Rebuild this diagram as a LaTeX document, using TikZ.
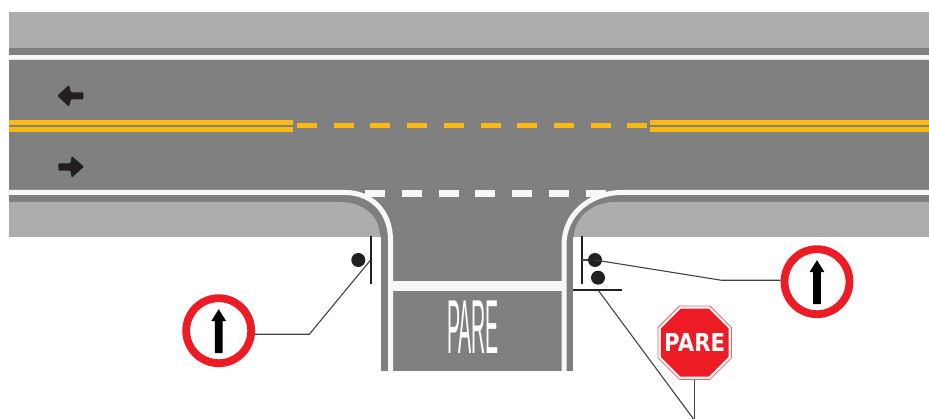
\documentclass[tikz,border=0pt]{standalone}
\usepackage{fontspec}
\usepackage{graphicx}
\setmainfont{Liberation Sans}
\newfontfamily\signfont{DejaVu Sans}
\usetikzlibrary{shapes.geometric}
\definecolor{roadgrey}{HTML}{808080}
\definecolor{curbgrey}{HTML}{7F7F7F}
\definecolor{walkgrey}{HTML}{ADADAD}
\definecolor{paintwhite}{HTML}{F7F9F8}
\definecolor{paintyellow}{HTML}{FDB913}
\definecolor{signred}{HTML}{ED1C24}
\definecolor{inkblack}{HTML}{231F20}
\begin{document}
\begin{tikzpicture}[x=1pt,y=-1pt,
    edgeline/.style={draw=paintwhite,line width=5pt},
    ringsign/.style={circle,draw=signred,fill=white,line width=7.8pt,minimum size=65pt,inner sep=0pt},
    postdot/.style={circle,fill=inkblack,minimum size=14pt,inner sep=0pt},
    postbar/.style={draw=inkblack,line width=1.7pt},
    postline/.style={draw=inkblack!85,line width=1.1pt}]
\useasboundingbox (0,0) rectangle (929,419);

\fill[walkgrey] (9,12) rectangle (929,48);
\fill[curbgrey] (9,48) rectangle (929,55);
\fill[paintwhite] (9,55) rectangle (929,60);

\fill[curbgrey] (9,195) rectangle (929,202);
\fill[curbgrey] (340,195) rectangle (615,237);
\fill[curbgrey] (381,237) rectangle (573,371);
\fill[walkgrey] (9,202) -- (340,202) .. controls (362,202) and (380,215) .. (380,237) -- (9,237) -- cycle;
\fill[walkgrey] (929,202) -- (615,202) .. controls (592,202) and (574,218) .. (574,237) -- (929,237) -- cycle;

\fill[roadgrey] (9,60) -- (929,60) -- (929,192.5) -- (622,192.5) .. controls (590,192.5) and (564,214) .. (564,245) -- (564,371) -- (390.5,371) -- (390.5,240) .. controls (390.5,212) and (372,192.5) .. (345,192.5) -- (9,192.5) -- cycle;
\draw[edgeline] (9,192.5) -- (345,192.5) .. controls (372,192.5) and (390.5,212) .. (390.5,240) -- (390.5,371);
\draw[edgeline] (929,192.5) -- (622,192.5) .. controls (590,192.5) and (564,214) .. (564,245) -- (564,371);
\fill[paintwhite] (392,281) rectangle (562,291);

\fill[paintyellow] (9,120) rectangle (293,125);
\fill[paintyellow] (9,127) rectangle (293,132);
\fill[paintyellow] (650,120) rectangle (929,125);
\fill[paintyellow] (650,127) rectangle (929,132);
\foreach \k in {0,...,9}{
    \fill[paintyellow] (297+36.7*\k,123.3) rectangle (317+36.7*\k,128.3);
}
\foreach \k in {0,...,6}{
    \fill[paintwhite] (365+36.8*\k,190.5) rectangle (385+36.8*\k,197);
}

\fill[inkblack,rounded corners=1pt] (57.3,95.7) -- (69,85) -- (71,92.3) -- (83.3,92.3) -- (83.3,99.3) -- (71,99.3) -- (69,106.7) -- cycle;
\fill[inkblack,rounded corners=1pt] (84,166.7) -- (71.7,156) -- (70.5,163.3) -- (58.3,163.3) -- (58.3,170.7) -- (70.5,170.7) -- (71.7,177.7) -- cycle;

\node[white,inner sep=0pt] (roadtext) at (473,327) {\resizebox{52pt}{52.6pt}{PARE}};

\node[ringsign] (signL) at (218.7,330.7) {};
\node[ringsign] (signR) at (817,281.7) {};
\foreach \n in {signL,signR}{
    \fill[black] ([yshift=21.5pt]\n.center) -- ([xshift=7.5pt,yshift=9.5pt]\n.center) -- ([xshift=3.9pt,yshift=9.5pt]\n.center) -- ([xshift=3.9pt,yshift=-22.5pt]\n.center) -- ([xshift=-3.9pt,yshift=-22.5pt]\n.center) -- ([xshift=-3.9pt,yshift=-22.5pt]\n.center) -- ([xshift=-3.9pt,yshift=9.5pt]\n.center) -- ([xshift=-7.5pt,yshift=9.5pt]\n.center) -- cycle;
}

\node[regular polygon,regular polygon sides=8,draw=signred!70,fill=white,line width=0.8pt,minimum size=79.5pt,inner sep=0pt] (rimS) at (694.7,342.7) {};
\node[regular polygon,regular polygon sides=8,fill=signred,minimum size=73.5pt,inner sep=0pt] (signS) at (694.7,342.7) {};
\node[white,inner sep=0pt] (signtext) at (694.7,342.2) {\resizebox{61pt}{18pt}{\signfont\bfseries PARE}};

\node[postdot] (dotL) at (358.3,260) {};
\node[postdot] (dotR) at (595,260) {};
\node[postdot] (dotS) at (598,277.7) {};

\coordinate (barLtop) at (371,236);
\coordinate (barLend) at (371,284);
\coordinate (barRtop) at (582,236);
\coordinate (barRend) at (582,284);
\coordinate (barRmid) at (582,260);
\coordinate (barStop) at (573.3,290);
\coordinate (barSend) at (622.3,290);
\coordinate (barSmid) at (598,290);
\coordinate (barLmid) at (370,260.7);
\coordinate (bendL) at (309.3,334.3);
\coordinate (bendR) at (721.7,280.3);
\coordinate (foot) at (693.5,419);

\draw[postbar] (barLtop) -- (barLend);
\draw[postbar] (barRtop) -- (barRend);
\draw[postbar] (barStop) -- (barSend);
\draw[postline] (signL.east |- bendL) -- (bendL) -- (barLmid);
\draw[postline] (signR.west |- bendR) -- (bendR) -- (dotR.center);
\draw[postline] (barRmid) -- (dotR);
\draw[postline] (barSmid) -- (foot);
\draw[postline] (rimS.south) -- (rimS.south |- foot);
\end{tikzpicture}
\end{document}
